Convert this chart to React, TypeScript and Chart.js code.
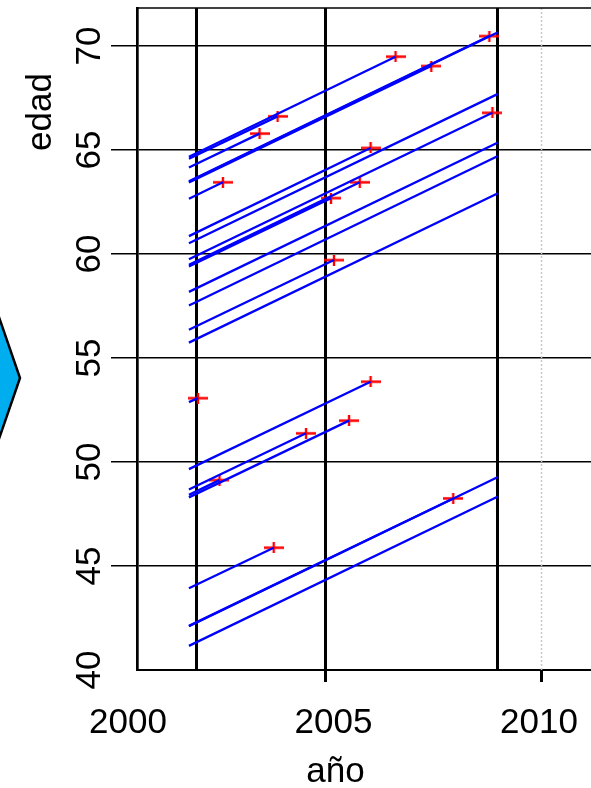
import React, { useEffect, useRef } from "react";
import { Chart, registerables } from "chart.js";

Chart.register(...registerables);

// ---- Data ----
const ENTRY_YEAR = [
  2001.82, 2001.82, 2001.82, 2001.82, 2001.82, 2001.82, 2001.82, 2001.82, 2001.82,
  2001.82, 2001.82, 2001.82, 2001.82, 2001.82, 2001.82, 2001.82, 2001.82, 2001.82,
  2001.82, 2001.82, 2001.82, 2001.82, 2001.82, 2001.82, 2001.82,
];
const ENTRY_AGE = [
  63.5, 64.68, 63.44, 59.75, 60.86, 59.48, 59.4, 56.36, 64.58,
  64.16, 62.66, 52.88, 48.42, 49.66, 48.68, 48.3, 42.12, 43.93,
  63.48, 60.52, 58.18, 57.53, 55.74, 42.1, 41.16,
];
const EXIT_YEAR = [
  2008.8, 2006.62, 2007.45, 2008.87, 2006.04, 2005.79, 2005.12, 2005.19, 2003.88,
  2003.46, 2002.61, 2002.03, 2002.53, 2006.04, 2004.54, 2005.54, 2007.96, 2003.79,
  2009.0, 2009.0, 2009.0, 2009.0, 2009.0, 2009.0, 2009.0,
];
const EXIT_AGE = [
  70.48, 69.49, 69.04, 66.79, 65.1, 63.45, 62.69, 59.71, 66.62,
  65.79, 63.45, 53.07, 49.13, 53.86, 51.38, 51.99, 48.25, 45.88,
  70.66, 67.7, 65.36, 64.71, 62.92, 49.28, 48.34,
];
const EVENT = [
  1, 1, 1, 1, 1, 1, 1, 1, 1,
  1, 1, 1, 1, 1, 1, 1, 1, 1,
  0, 0, 0, 0, 0, 0, 0,
];

const Y_TICKS = [40, 45, 50, 55, 60, 65, 70];
const X_TICK_LABELS = [2000, 2005, 2010];
const X_REF_LINES = [2002, 2005, 2009];
const X_TICK_MARKS = [2005, 2010];
const X_DOTTED = [2010];

const X_TITLE = "año";
const Y_TITLE = "edad";

// ---- Layout / style ----
const CANVAS_W = 660;
const CANVAS_H = 788;
const X_MIN = 2000.6134;
const X_MAX = 2012.625;
const XL_MIN = 2000.218;
const XL_MAX = 2012.797;
const Y_MIN = 40;
const Y_MAX = 71.83;
const FONT = '35px "Liberation Sans", Arial, Helvetica, sans-serif';

function makeCross(): HTMLCanvasElement {
  const c = document.createElement("canvas");
  c.width = 20;
  c.height = 11;
  const g = c.getContext("2d")!;
  g.strokeStyle = "#ff0000";
  g.lineWidth = 2.4;
  g.beginPath();
  g.moveTo(0, 5.5);
  g.lineTo(20, 5.5);
  g.moveTo(10, 0);
  g.lineTo(10, 11);
  g.stroke();
  return c;
}

const decorPlugin = {
  id: "decor",
  beforeDatasetsDraw(chart: any) {
    const { ctx, chartArea } = chart;
    const xs = chart.scales.x;
    ctx.save();
    ctx.strokeStyle = "#c8c8c8";
    ctx.lineWidth = 1.5;
    ctx.setLineDash([2, 2]);
    X_DOTTED.forEach((v) => {
      const px = Math.round(xs.getPixelForValue(v)) + 0.5;
      ctx.beginPath();
      ctx.moveTo(px, chartArea.top);
      ctx.lineTo(px, chartArea.bottom);
      ctx.stroke();
    });
    ctx.restore();
  },
  afterDraw(chart: any) {
    const { ctx, chartArea } = chart;
    const ys = chart.scales.y;
    const xl = chart.scales.xl;
    ctx.save();
    // top box line
    ctx.strokeStyle = "#000";
    ctx.lineWidth = 1.7;
    ctx.beginPath();
    ctx.moveTo(chartArea.left, chartArea.top);
    ctx.lineTo(chartArea.right, chartArea.top);
    ctx.stroke();

    ctx.fillStyle = "#000";
    ctx.font = FONT;
    ctx.textAlign = "center";
    ctx.textBaseline = "alphabetic";
    // x tick labels
    X_TICK_LABELS.forEach((v) => {
      ctx.fillText(String(v), xl.getPixelForValue(v), chartArea.bottom + 63);
    });
    // x title
    ctx.fillText(X_TITLE, xl.getPixelForValue(2005) + 2, chartArea.bottom + 112);
    // y tick labels (rotated)
    Y_TICKS.forEach((v) => {
      ctx.save();
      ctx.translate(chartArea.left - 37, ys.getPixelForValue(v));
      ctx.rotate(-Math.PI / 2);
      ctx.fillText(String(v), 0, 0);
      ctx.restore();
    });
    // y title
    ctx.save();
    ctx.translate(chartArea.left - 86, ys.getPixelForValue(66.83));
    ctx.rotate(-Math.PI / 2);
    ctx.fillText(Y_TITLE, 0, 0);
    ctx.restore();
    ctx.restore();
  },
};

export default function App() {
  const canvasRef = useRef<HTMLCanvasElement | null>(null);

  useEffect(() => {
    const canvas = canvasRef.current;
    if (!canvas) return;
    const cross = makeCross();

    const lineSets = ENTRY_AGE.map((a, i) => ({
      label: "p" + i,
      data: [
        { x: ENTRY_YEAR[i], y: a },
        { x: EXIT_YEAR[i], y: EXIT_AGE[i] },
      ],
      borderColor: "#0000ff",
      borderWidth: 2.3,
      pointRadius: 0,
      tension: 0,
      fill: false,
      xAxisID: "x",
      yAxisID: "y",
    }));
    const crossData = EXIT_YEAR.map((x, i) => ({ x, y: EXIT_AGE[i] })).filter(
      (_, i) => EVENT[i] === 1
    );
    const crossSet = {
      label: "eventos",
      data: crossData,
      showLine: false,
      pointStyle: cross,
      pointRadius: 5,
      borderColor: "#ff0000",
      backgroundColor: "#ff0000",
      xAxisID: "x",
      yAxisID: "y",
    };

    const transparent = "rgba(0,0,0,0)";
    const chart = new Chart(canvas, {
      type: "line",
      data: { datasets: [...lineSets, crossSet] as any },
      options: {
        animation: false,
        responsive: false,
        maintainAspectRatio: false,
        devicePixelRatio: 1,
        layout: { padding: { top: 8, left: 0, right: 0, bottom: 0 } },
        plugins: {
          legend: { display: false },
          tooltip: { enabled: false },
        },
        scales: {
          x: {
            type: "linear",
            position: "bottom",
            min: X_MIN,
            max: X_MAX,
            z: 1,
            afterBuildTicks: (s: any) => {
              const vals = Array.from(new Set([...X_REF_LINES, ...X_TICK_MARKS])).sort();
              s.ticks = vals.map((v) => ({ value: v }));
            },
            afterFit: (s: any) => {
              s.height = 118;
            },
            ticks: { display: false },
            grid: {
              color: (c: any) =>
                c.tick && X_REF_LINES.includes(c.tick.value) ? "#000" : transparent,
              lineWidth: 3,
              drawTicks: true,
              tickLength: 12,
              tickWidth: 3,
              tickColor: (c: any) =>
                c.tick && X_TICK_MARKS.includes(c.tick.value) ? "#000" : transparent,
            },
            border: { display: true, color: "#000", width: 2 },
          },
          xl: {
            type: "linear",
            display: false,
            min: XL_MIN,
            max: XL_MAX,
          },
          y: {
            type: "linear",
            position: "left",
            min: Y_MIN,
            max: Y_MAX,
            afterBuildTicks: (s: any) => {
              s.ticks = Y_TICKS.map((v) => ({ value: v }));
            },
            afterFit: (s: any) => {
              s.width = 137;
            },
            ticks: { display: false },
            grid: {
              color: "#000",
              lineWidth: 1.5,
              drawTicks: true,
              tickLength: 26,
              tickWidth: 1.5,
              tickColor: (c: any) =>
                c.tick && c.tick.value === Y_MIN ? transparent : "#000",
            },
            border: { display: true, color: "#000", width: 2.7 },
          },
        } as any,
      },
      plugins: [decorPlugin],
    });
    return () => chart.destroy();
  }, []);

  return (
    <div
      style={{
        position: "absolute",
        left: 0,
        top: 0,
        width: 591,
        height: 788,
        overflow: "hidden",
        background: "#fff",
      }}
    >
      <svg
        width={40}
        height={788}
        style={{ position: "absolute", left: 0, top: 0 }}
      >
        <polygon
          points="-20,262 20,378 -20,494 -100,494 -100,262"
          fill="#00AEEF"
          stroke="#000"
          strokeWidth={2.5}
        />
      </svg>
      <canvas
        ref={canvasRef}
        width={CANVAS_W}
        height={CANVAS_H}
        style={{ position: "absolute", left: 0, top: 0, width: CANVAS_W, height: CANVAS_H }}
      />
    </div>
  );
}
